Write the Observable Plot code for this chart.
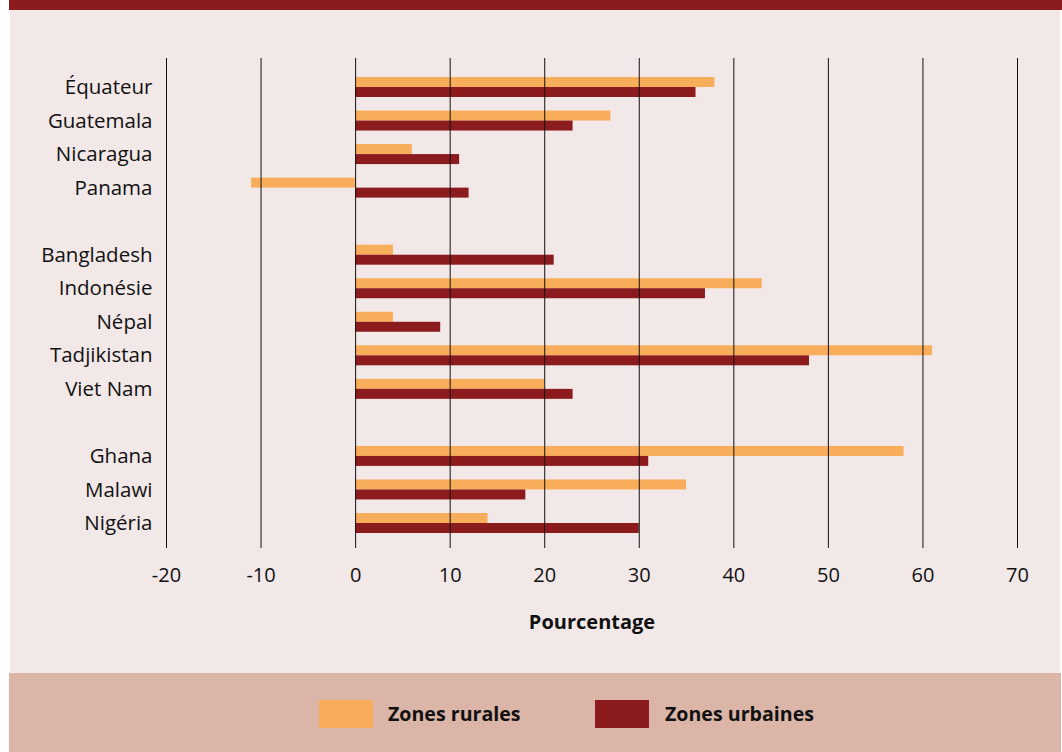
<!DOCTYPE html>
<html>
<head>
<meta charset="utf-8">
<script src="https://cdn.jsdelivr.net/npm/d3@7"></script>
<script src="https://cdn.jsdelivr.net/npm/@observablehq/plot@0.6"></script>
<style>
  body { margin: 0; background: #ffffff; font-family: "Open Sans", sans-serif; }
  #wrap { position: absolute; left: 9px; top: 0; width: 1053px; height: 752px; }
  #topband { position: absolute; left: 0; top: 0; width: 1053px; height: 10px; background: #8c1b1e; }
  #chart { position: absolute; left: 1px; top: 10px; width: 1050px; height: 663px; background: #f2e8e8; }
  #legend { position: absolute; left: 0; top: 673px; width: 1052px; height: 79px; background: #dbb6a8; }
  .sw { position: absolute; top: 27px; width: 54px; height: 28px; }
  .lt { position: absolute; top: 27px; height: 28px; line-height: 28px; font-size: 19.6px; font-weight: 700; color: #111; }
</style>
</head>
<body>
<div id="wrap">
  <div id="topband"></div>
  <div id="chart"></div>
  <div id="legend"></div>
</div>
<script>
const countries = ["Équateur","Guatemala","Nicaragua","Panama","Bangladesh","Indonésie","Népal","Tadjikistan","Viet Nam","Ghana","Malawi","Nigéria"];
const rural = [38, 27, 6, -11, 4, 43, 4, 61, 20, 58, 35, 14];
const urban = [36, 23, 11, 12, 21, 37, 9, 48, 23, 31, 18, 30];
const seriesNames = ["Zones rurales", "Zones urbaines"];
const seriesColors = ["#f8ad5a", "#8c1b1e"];
const xTicks = [-20, -10, 0, 10, 20, 30, 40, 50, 60, 70];
const gapsAfter = ["Panama", "Viet Nam"];

const yDomain = [];
countries.forEach(c => { yDomain.push(c); const gi = gapsAfter.indexOf(c); if (gi >= 0) yDomain.push("gap" + gi); });

const ruralData = countries.map((c, i) => ({country: c, value: rural[i]}));
const urbanData = countries.map((c, i) => ({country: c, value: urban[i]}));

const plot = Plot.plot({
  width: 1050,
  height: 663,
  marginLeft: 156,
  marginRight: 43,
  marginTop: 48,
  marginBottom: 125,
  style: { background: "transparent", fontFamily: "Open Sans, sans-serif", color: "#111" },
  x: { domain: [-20, 70] },
  y: { domain: yDomain, range: [60.3, 529.7], paddingInner: 0.404, paddingOuter: 0.2, round: false },
  marks: [
    Plot.barX(ruralData, { y: "country", x1: 0, x2: "value", fill: seriesColors[0], insetBottom: 10 }),
    Plot.barX(urbanData, { y: "country", x1: 0, x2: "value", fill: seriesColors[1], insetTop: 10 }),
    Plot.ruleX(xTicks, { stroke: "#111", strokeWidth: 1 }),
    Plot.axisX({ ticks: xTicks, tickSize: 0, tickPadding: 19, tickFormat: d => String(d), label: null, fontSize: 20 }),
    Plot.axisY({ tickSize: 0, tickPadding: 14, tickFormat: d => d.startsWith("gap") ? "" : d, label: null, fontSize: 20.5 }),
    Plot.text(["Pourcentage"], { frameAnchor: "bottom", dy: 80, lineAnchor: "bottom", fontSize: 20, fontWeight: "bold" })
  ]
});
document.getElementById("chart").appendChild(plot);

const legend = document.getElementById("legend");
const swX = [310, 586];
const txX = [379, 656];
seriesNames.forEach((n, i) => {
  const s = document.createElement("div"); s.className = "sw"; s.style.left = swX[i] + "px"; s.style.background = seriesColors[i]; legend.appendChild(s);
  const t = document.createElement("div"); t.className = "lt"; t.style.left = txX[i] + "px"; t.textContent = n; legend.appendChild(t);
});
</script>
</body>
</html>
